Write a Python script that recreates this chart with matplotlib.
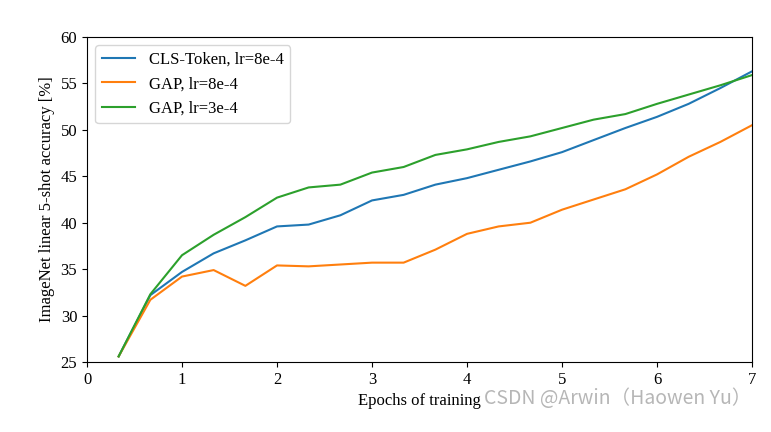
import matplotlib.pyplot as plt

epochs = [0.333, 0.667, 1.0, 1.333, 1.667, 2.0, 2.333, 2.667, 3.0, 3.333, 3.667,
          4.0, 4.333, 4.667, 5.0, 5.333, 5.667, 6.0, 6.333, 6.667, 7.0]
cls_8e4 = [25.6, 32.2, 34.7, 36.7, 38.1, 39.6, 39.8, 40.8, 42.4, 43.0, 44.1,
           44.8, 45.7, 46.6, 47.6, 48.9, 50.2, 51.4, 52.8, 54.5, 56.3]
gap_8e4 = [25.6, 31.7, 34.2, 34.9, 33.2, 35.4, 35.3, 35.5, 35.7, 35.7, 37.1,
           38.8, 39.6, 40.0, 41.4, 42.5, 43.6, 45.2, 47.1, 48.7, 50.5]
gap_3e4 = [25.6, 32.3, 36.5, 38.7, 40.6, 42.7, 43.8, 44.1, 45.4, 46.0, 47.3,
           47.9, 48.7, 49.3, 50.2, 51.1, 51.7, 52.8, 53.8, 54.8, 55.9]
labels = ["CLS-Token, lr=8e-4", "GAP, lr=8e-4", "GAP, lr=3e-4"]

plt.rcParams['font.family'] = ['Liberation Serif', 'DejaVu Serif']

fig = plt.figure(figsize=(7.71, 4.32), dpi=100)
ax = fig.add_axes([87 / 771, 1 - 362 / 432, 665 / 771, 325 / 432])

ax.plot(epochs, cls_8e4, color='#1f77b4', lw=1.5, label=labels[0])
ax.plot(epochs, gap_8e4, color='#ff7f0e', lw=1.5, label=labels[1])
ax.plot(epochs, gap_3e4, color='#2ca02c', lw=1.5, label=labels[2])

ax.set_xlim(0, 7)
ax.set_ylim(25, 60)
ax.set_xticks(range(0, 8))
ax.set_yticks(range(25, 61, 5))
ax.tick_params(labelsize=12)
ax.set_xlabel("Epochs of training", fontsize=12)
ax.set_ylabel("ImageNet linear 5-shot accuracy [%]", fontsize=12)
ax.legend(loc='upper left', fontsize=12)

# watermark
fig.text(0.975, 0.078, "CSDN @Arwin（Haowen Yu）", ha='right', va='center',
         fontsize=14, color='#aaaaaa', alpha=0.85,
         family=['Noto Sans CJK SC', 'DejaVu Sans'])

fig.savefig("out.png", dpi=100)
